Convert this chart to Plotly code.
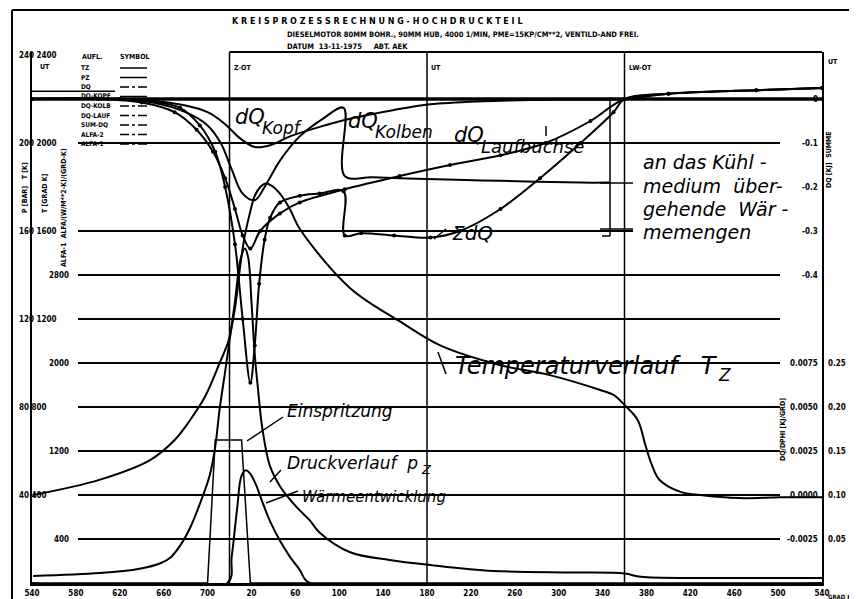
import plotly.graph_objects as go

# The page puts the figure 8 px from the top-left corner, so every reference
# pixel position p is drawn at p - OFF inside a figure of FW x FH.
OFF = 8
FW, FH = 857 - OFF, 599 - OFF
PX0, PX1 = 32, 822
PY0, PY1 = 52, 583

# ---------------- data ----------------
tick_deg = list(range(540, 1261, 40))
tick_txt = [str(d % 720) for d in tick_deg]

# pressure p_z [bar]
p_deg = [541, 602, 638, 657, 666, 675, 684, 693, 702, 707, 711, 716, 720, 725, 730, 734, 737, 740, 743, 746, 750, 757, 766, 775, 784, 793, 802, 830, 866, 903, 960, 1035, 1080, 1095, 1150, 1260]
p_bar = [3.2, 4.5, 6.5, 9, 11.5, 17, 25, 36, 49, 62, 79, 96, 110, 128, 147, 152, 148, 128, 104, 88, 70, 53, 44, 38, 33, 28.6, 23, 14, 10.5, 8.2, 5.5, 4.8, 4.3, 2.8, 2.3, 2.3]

# temperature T_z [K]
t_deg = [541, 602, 648, 670, 684, 698, 711, 719, 725, 730, 734, 739, 743, 748, 752, 757, 766, 775, 784, 830, 875, 912, 967, 1012, 1058, 1070, 1080, 1092, 1099, 1105, 1112, 1131, 1149, 1185, 1222, 1260]
t_k = [400, 470, 560, 650, 740, 850, 1000, 1100, 1250, 1450, 1580, 1690, 1760, 1800, 1815, 1810, 1770, 1700, 1610, 1340, 1190, 1080, 990, 945, 877, 855, 809, 741, 627, 536, 468, 414, 400, 386, 390, 390]

# injection (Einspritzung)
inj_deg = [540, 700, 707, 731, 739, 1260]
inj_val = [0, 0, 1300, 1300, 0, 0]

# heat release (Waermeentwicklung)
hr_deg = [540, 718, 722, 727, 731, 735, 739, 744, 750, 757, 766, 775, 784, 793, 1260]
hr_val = [0, 0, 0.03, 0.085, 0.122, 0.128, 0.124, 0.112, 0.092, 0.07, 0.048, 0.03, 0.015, 0.0, 0.0]

# heat transferred to the coolant [kJ]
kopf_deg = [540, 620, 650, 680, 700, 715, 730, 743, 757, 775, 800, 830, 870, 903, 950, 1000, 1080, 1120, 1200, 1260]
kopf_q = [0, 0, -0.004, -0.015, -0.03, -0.055, -0.09, -0.109, -0.105, -0.085, -0.065, -0.045, -0.025, -0.012, -0.005, -0.002, 0.0, 0.012, 0.02, 0.025]

kolben_deg = [540, 610, 650, 680, 700, 712, 722, 732, 743, 752, 766, 784, 805, 824, 825, 850, 900, 950, 1000, 1040, 1067]
kolben_q = [0, 0, -0.008, -0.03, -0.06, -0.1, -0.16, -0.215, -0.23, -0.2, -0.14, -0.085, -0.045, -0.02, -0.175, -0.178, -0.182, -0.185, -0.188, -0.19, -0.19]

lauf_deg = [540, 600, 640, 670, 690, 705, 716, 725, 732, 739, 748, 766, 784, 825, 875, 921, 967, 1008, 1049, 1080, 1120, 1200, 1260]
lauf_q = [0, 0, -0.008, -0.03, -0.07, -0.12, -0.18, -0.25, -0.31, -0.34, -0.3, -0.26, -0.235, -0.205, -0.175, -0.15, -0.128, -0.1, -0.05, 0.0, 0.012, 0.02, 0.025]

sum_deg = [540, 620, 648, 675, 693, 707, 716, 725, 732, 739, 743, 747, 752, 757, 766, 784, 802, 824, 825, 840, 870, 903, 930, 967, 1003, 1040, 1070, 1080, 1120, 1200, 1260]
sum_q = [0, 0, -0.005, -0.02, -0.06, -0.12, -0.2, -0.33, -0.5, -0.645, -0.56, -0.42, -0.32, -0.27, -0.235, -0.22, -0.215, -0.21, -0.31, -0.305, -0.31, -0.315, -0.3, -0.25, -0.18, -0.1, -0.03, 0.0, 0.012, 0.02, 0.025]

grid_v = [20, 40, 60, 80, 100, 120, 140, 160, 200]

left_outer_v = [40, 80, 120, 160, 200, 240]
left_outer_t = ["40 400", "80 800", "120 1200", "160 1600", "200 2000", "240 2400"]
left_inner_v = [20, 60, 100, 140]
left_inner_t = ["400", "1200", "2000", "2800"]
right_in_v = [20, 40, 60, 80, 100, 140, 160, 180, 200, 220]
right_in_t = ["-0.0025", "0.0000", "0.0025", "0.0050", "0.0075", "-0.4", "-0.3", "-0.2", "-0.1", "0"]
right_out_v = [20, 40, 60, 80, 100]
right_out_t = ["0.05", "0.10", "0.15", "0.20", "0.25"]

marker_lines = [720, 900, 1080]
marker_txt = ["Z-OT", "UT", "LW-OT"]

legend_rows = ["TZ", "PZ", "DQ", "DQ-KOPF", "DQ-KOLB", "DQ-LAUF", "SUM-DQ", "ALFA-2", "ALFA-1"]
legend_dash = ["solid", "solid", "dashdot", "solid", "dashdot", "dashdot", "dashdot", "dashdot", "dashdot"]

# ---------------- figure ----------------
def fx(p):
    return (p - OFF) / FW

def fy(p):
    return 1 - (p - OFF) / FH

VMAX = (PY1 - PY0) / 2.2
dom_x = [fx(PX0), fx(PX1)]
dom_y = [fy(PY1), fy(PY0)]
LBL = dict(family="DejaVu Sans Condensed", size=8, color="black", weight="bold")
SMALL = dict(family="DejaVu Sans Condensed", size=7, color="black", weight="bold")
NB = "\u00a0"

def ital(size):
    return dict(family="DejaVu Sans", size=size, color="black", style="italic")

fig = go.Figure()
line = dict(color="black", width=2)

fig.add_trace(go.Scatter(x=p_deg, y=p_bar, mode="lines", line=line, yaxis="y", line_shape="spline"))
fig.add_trace(go.Scatter(x=t_deg, y=t_k, mode="lines", line=line, yaxis="y2", line_shape="spline"))
fig.add_trace(go.Scatter(x=inj_deg, y=inj_val, mode="lines", line=dict(color="black", width=1.5), yaxis="y3"))
fig.add_trace(go.Scatter(x=hr_deg, y=hr_val, mode="lines", line=line, yaxis="y4", line_shape="spline"))
for xs, ys in [(kopf_deg, kopf_q), (kolben_deg, kolben_q)]:
    fig.add_trace(go.Scatter(x=xs, y=ys, mode="lines", line=line, yaxis="y5", line_shape="spline"))
for xs, ys in [(lauf_deg, lauf_q), (sum_deg, sum_q)]:
    fig.add_trace(go.Scatter(x=xs, y=ys, mode="lines+markers", line=line, marker=dict(size=4, color="black"),
                             yaxis="y5", line_shape="spline"))

shapes = []
def seg(x0, y0, x1, y1, w=1.5, xref="paper", yref="paper", dash="solid"):
    shapes.append(dict(type="line", xref=xref, yref=yref, x0=x0, x1=x1, y0=y0, y1=y1,
                       line=dict(color="black", width=w, dash=dash)))

def pseg(x0, y0, x1, y1, w=1.5, dash="solid"):
    seg(fx(x0), fy(y0), fx(x1), fy(y1), w, dash=dash)

for v in grid_v:
    x_end = 633 if v == 160 else 780
    seg(fx(78), v, fx(x_end), v, 2, "paper", "y")
seg(fx(PX0), 220, fx(PX1), 220, 3.5, "paper", "y")
seg(fx(PX0), 223.5, fx(115), 223.5, 1.5, "paper", "y")
for d in marker_lines:
    seg(d, dom_y[0], d, dom_y[1], 1.5, "x", "paper")
seg(720, dom_y[1], 1260, dom_y[1], 2, "x", "paper")
# outer frame
pseg(12, 599, 12, 10, 2)
pseg(12, 10, 857, 10, 2)
# bracket "an das Kuehlmedium ..."
pseg(610, 97, 610, 236, 1.5)
pseg(600, 183, 633, 183, 1.5)
pseg(600, 229, 633, 229, 1.5)
pseg(602, 236, 610, 236, 1.5)
# pointer strokes of the hand lettering
pseg(446, 374, 438, 352, 1.5)
pseg(283, 417, 247, 441, 1.5)
pseg(281, 470, 270, 482, 1.5)
pseg(298, 491, 266, 503, 1.5)
pseg(446, 229, 434, 239, 1.5)
pseg(546, 126, 546, 136, 1.5)
# legend symbols
for i, dsh in enumerate(legend_dash):
    yy = 68 + i * 9.5
    pseg(120, yy, 147, yy, 1.5, dash=dsh)

annotations = []
def txt(x, y, s, font, xanchor="left", yanchor="middle", angle=0):
    annotations.append(dict(x=fx(x), y=fy(y), xref="paper", yref="paper", text=s, showarrow=False,
                            font=font, xanchor=xanchor, yanchor=yanchor, textangle=angle))

def ytxt(xpix, v, s, font, xanchor):
    annotations.append(dict(x=fx(xpix), y=v, xref="paper", yref="y", text=s, showarrow=False,
                            font=font, xanchor=xanchor, yanchor="middle"))

for v, s in zip(left_outer_v, left_outer_t):
    ytxt(17, v, s, LBL, "left")
for v, s in zip(left_inner_v, left_inner_t):
    ytxt(71, v, s, LBL, "right")
for v, s in zip(right_in_v, right_in_t):
    ytxt(820, v, s, LBL, "right")
for v, s in zip(right_out_v, right_out_t):
    ytxt(826, v, s, LBL, "left")

txt(230, 21, "K R E I S P R O Z E S S R E C H N U N G - H O C H D R U C K T E I L",
    dict(family="DejaVu Sans", size=8, weight="bold", color="black"))
txt(285, 34, "DIESELMOTOR 80MM BOHR., 90MM HUB, 4000 1/MIN, PME=15KP/CM**2, VENTILD-AND FREI.",
    dict(family="DejaVu Sans Condensed", size=7.5, weight="bold", color="black"))
txt(285, 46, "DATUM  13-11-1975     ABT. AEK", dict(family="DejaVu Sans Condensed", size=7.5, weight="bold", color="black"))
for d, s in zip(marker_lines, marker_txt):
    annotations.append(dict(x=d, y=fy(62), xref="x", yref="paper", text=s, showarrow=False, font=SMALL,
                            xanchor="left", xshift=2))
txt(826, 62, "UT", SMALL)
txt(38, 67, "UT", SMALL)
txt(80, 57, "AUFL.", SMALL)
txt(118, 57, "SYMBOL", SMALL)
for i, s in enumerate(legend_rows):
    txt(79, 68 + i * 9.5, s, dict(family="DejaVu Sans Condensed", size=6.5, weight="bold", color="black"))
txt(25, 188, "P [BAR]   T [K]", SMALL, "center", "middle", -90)
txt(45, 193, "T [GRAD K]", SMALL, "center", "middle", -90)
txt(64, 208, "ALFA-1  ALFA/(W/M**2-K)/(GRD-K)", SMALL, "center", "middle", -90)
txt(829, 160, "DQ [KJ]  SUMME", SMALL, "center", "middle", -90)
txt(783, 430, "DQ/DPHI [KJ/GRD]", SMALL, "center", "middle", -90)
txt(826, 596, "GRAD KW", dict(family="DejaVu Sans Condensed", size=6, weight="bold", color="black"))

# hand-lettered labels (subscripts drawn as separate, lowered texts)
txt(233, 117, "dQ", ital(21))
txt(260, 128, "Kopf", ital(17))
txt(346, 121, "dQ", ital(21))
txt(373, 132, "Kolben", ital(17))
txt(452, 135, "dQ", ital(21))
txt(479, 146, "Laufbuchse", ital(18))
txt(450, 233, "ΣdQ", ital(20))
txt(641, 162, "an das Kühl -", ital(19))
txt(641, 186, "medium  über-", ital(19))
txt(641, 209, "gehende  Wär -", ital(19))
txt(641, 232, "memengen", ital(19))
txt(453, 366, "Temperaturverlauf" + NB * 3 + "T", ital(24))
txt(716, 375, "Z", ital(17))
txt(285, 463, "Druckverlauf" + NB * 2 + "p", ital(17))
txt(419, 469, "Z", ital(13))
txt(285, 411, "Einspritzung", ital(17))
txt(300, 497, "Wärmeentwicklung", ital(15))

layout_axes = dict(
    xaxis=dict(domain=dom_x, range=[540, 1260], tickvals=tick_deg, ticktext=tick_txt, showgrid=False,
               zeroline=False, showline=True, linecolor="black", linewidth=3, ticks="", tickfont=LBL,
               anchor="y", automargin=False),
    yaxis=dict(domain=dom_y, range=[0, VMAX], showgrid=False, zeroline=False, showline=True, mirror=True,
               linecolor="black", linewidth=2, showticklabels=False, ticks="", automargin=False),
    yaxis2=dict(overlaying="y", range=[0, VMAX * 10], visible=False),
    yaxis3=dict(overlaying="y", range=[0, VMAX * 20], visible=False),
    yaxis4=dict(overlaying="y", range=[0, VMAX / 400], visible=False),
    yaxis5=dict(overlaying="y", range=[-1.1, (VMAX - 220) / 200], visible=False),
)

fig.update_layout(width=FW, height=FH, margin=dict(l=0, r=0, t=0, b=0, autoexpand=False),
                  paper_bgcolor="white", plot_bgcolor="white", showlegend=False,
                  shapes=shapes, annotations=annotations, **layout_axes)
fig.write_html("out.html")
